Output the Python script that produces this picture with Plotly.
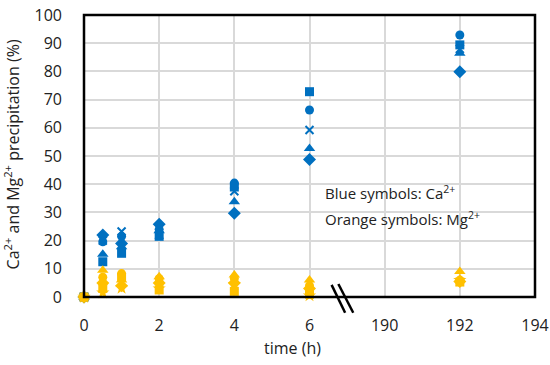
import plotly.graph_objects as go

# time (h)
time = [0, 0.5, 1, 2, 4, 6, 192]

# Ca2+ precipitation (%) - blue symbols
ca_diamond = [0, 22.0, 19.0, 25.8, 29.7, 48.8, 79.9]
ca_square = [0, 12.5, 15.5, 21.5, 39.0, 72.8, 89.4]
ca_triangle = [0, 15.2, 17.8, 23.5, 33.8, 52.7, 86.4]
ca_x = [0, 20.0, 23.2, 22.0, 37.5, 59.2, 88.0]
ca_circle = [0, 19.6, 21.5, 24.0, 40.4, 66.3, 92.9]

# Mg2+ precipitation (%) - orange symbols
mg_diamond = [0, 5.0, 4.0, 5.0, 5.0, 3.0, 5.5]
mg_square = [0, 3.0, 7.0, 2.5, 2.0, 1.0, 5.3]
mg_triangle = [0, 9.5, 6.0, 7.2, 7.8, 6.0, 9.0]
mg_star = [0, 1.5, 3.2, 3.0, 4.5, 0.5, 6.0]
mg_circle = [0, 7.0, 8.3, 6.5, 6.6, 4.0, 6.0]

x_ticks_left = [0, 2, 4, 6]
x_ticks_right = [190, 192, 194]
y_ticks = list(range(0, 101, 10))

BLUE = "#0070C0"
ORANGE = "#FFC000"
FONT = "Open Sans"
TXT = "#222222"

fig = go.Figure()

def add_series(values, color, symbol, size, line_w=0):
    for (xs, ys, xa) in [
        ([t for t in time if t <= 6], [v for t, v in zip(time, values) if t <= 6], "x"),
        ([t for t in time if t > 6], [v for t, v in zip(time, values) if t > 6], "x2"),
    ]:
        marker = dict(symbol=symbol, size=size, color=color)
        if line_w:
            marker["line"] = dict(color=color, width=line_w)
        fig.add_trace(go.Scatter(x=xs, y=ys, mode="markers", xaxis=xa, yaxis="y",
                                 marker=marker, showlegend=False, cliponaxis=False))

add_series(ca_diamond, BLUE, "diamond", 10)
add_series(ca_square, BLUE, "square", 9)
add_series(ca_triangle, BLUE, "triangle-up", 10)
add_series(ca_x, BLUE, "x-thin-open", 8, 2)
add_series(ca_circle, BLUE, "circle", 9)
add_series(mg_diamond, ORANGE, "diamond", 10)
add_series(mg_square, ORANGE, "square", 9)
add_series(mg_triangle, ORANGE, "triangle-up", 10)
add_series(mg_star, ORANGE, "star", 10)
add_series(mg_circle, ORANGE, "circle", 9)

axis_common = dict(showgrid=True, gridcolor="#D9D9D9", gridwidth=1.5, zeroline=False,
                   showline=False, ticks="", automargin=False,
                   tickfont=dict(family=FONT, size=16, color=TXT))

fig.update_layout(
    width=550, height=365,
    margin=dict(l=84, r=15, t=15, b=68),
    paper_bgcolor="white", plot_bgcolor="white",
    font=dict(family=FONT, color=TXT),
    xaxis=dict(domain=[0, 7/12], range=[0, 7], tickvals=x_ticks_left,
               ticklabelstandoff=17, anchor="y", **axis_common),
    xaxis2=dict(domain=[7/12, 1], range=[189, 194], tickvals=x_ticks_right,
                ticklabelstandoff=17, anchor="y", **axis_common),
    yaxis=dict(range=[0, 100], tickvals=y_ticks, ticklabelstandoff=21, **axis_common),
)

# plot border
fig.add_shape(type="rect", xref="paper", yref="paper", x0=0, x1=1, y0=0, y1=1,
              line=dict(color="black", width=2.5), layer="above")
# axis break marks
fig.add_shape(type="line", xref="paper", yref="paper", x0=0.549, y0=0.043, x1=0.579, y1=-0.056,
              line=dict(color="black", width=2.5))
fig.add_shape(type="line", xref="paper", yref="paper", x0=0.564, y0=0.046, x1=0.597, y1=-0.056,
              line=dict(color="black", width=2.5))

fig.add_annotation(text="Ca<sup>2+</sup> and Mg<sup>2+</sup> precipitation (%)",
                   xref="paper", yref="paper", x=-0.16, y=0.505, textangle=-90,
                   showarrow=False, xanchor="center", yanchor="middle",
                   font=dict(family=FONT, size=16, color=TXT))
fig.add_annotation(text="time (h)", xref="paper", yref="paper", x=0.463, y=-0.135,
                   showarrow=False, xanchor="center", yanchor="top",
                   font=dict(family=FONT, size=16, color=TXT))
fig.add_annotation(text="Blue symbols: Ca<sup>2+</sup>", xref="paper", yref="paper",
                   x=0.53, y=0.37, showarrow=False, xanchor="left", yanchor="middle",
                   font=dict(family=FONT, size=15, color=TXT))
fig.add_annotation(text="Orange symbols: Mg<sup>2+</sup>", xref="paper", yref="paper",
                   x=0.53, y=0.28, showarrow=False, xanchor="left", yanchor="middle",
                   font=dict(family=FONT, size=15, color=TXT))

fig.write_html("out.html", config={"displayModeBar": False},
               post_script="document.body.style.margin='0px';")
